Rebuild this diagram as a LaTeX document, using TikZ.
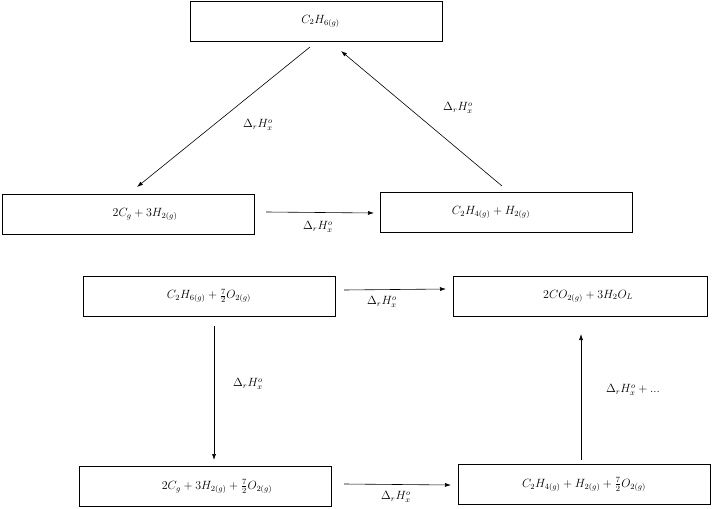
\documentclass[tikz,border=0pt]{standalone}
\usetikzlibrary{arrows.meta}
\begin{document}
\begin{tikzpicture}[x=1bp,y=-1bp,
 box/.style={draw,thick,minimum width=252bp,minimum height=40bp,inner sep=0pt,font=\large},
 arr/.style={-{Latex[length=6bp,width=4bp]},semithick},
 lab/.style={font=\large,inner sep=1pt}]
\useasboundingbox (0,0) rectangle (712,509);
\node[box] (a) at (316.5,21) {\hspace{8bp}$C_2H_{6(g)}$};
\node[box] (b) at (128,214.5) {\hspace{34bp}$2C_g+3H_{2(g)}$};
\node[box] (c) at (506,212.5) {\hspace{-30bp}$C_2H_{4(g)}+H_{2(g)}$};
\node[box] (d) at (209,296) {$C_2H_{6(g)}+\frac{7}{2}O_{2(g)}$};
\node[box,minimum width=254bp] (e) at (580,296) {\hspace{16bp}$2CO_{2(g)}+3H_2O_L$};
\node[box] (f) at (205,486.5) {\hspace{24bp}$2C_g+3H_{2(g)}+\frac{7}{2}O_{2(g)}$};
\node[box] (g) at (584,484.5) {$C_2H_{4(g)}+H_{2(g)}+\frac{7}{2}O_{2(g)}$};
\coordinate (a1) at (310,47); \coordinate (b1) at (137,187);
\coordinate (c1) at (502,186); \coordinate (a2) at (341,51);
\coordinate (b2) at (266,212); \coordinate (c2) at (374,213);
\coordinate (d1) at (344,290); \coordinate (e1) at (446,289);
\coordinate (d2) at (214,326); \coordinate (f1) at (214,460);
\coordinate (f2) at (344,484); \coordinate (g1) at (451,485);
\coordinate (g2) at (581,460); \coordinate (e2) at (581,334);
\draw[arr] (a1) -- (b1);
\draw[arr] (c1) -- (a2);
\draw[arr] (b2) -- (c2);
\draw[arr] (d1) -- (e1);
\draw[arr] (d2) -- (f1);
\draw[arr] (f2) -- (g1);
\draw[arr] (g2) -- (e2);
\node[lab] (l1) at (258,125) {$\Delta_r H_x^o$};
\node[lab] (l2) at (458,108) {$\Delta_r H_x^o$};
\node[lab] (l3) at (318,227) {$\Delta_r H_x^o$};
\node[lab] (l4) at (382,302) {$\Delta_r H_x^o$};
\node[lab] (l5) at (248,384) {$\Delta_r H_x^o$};
\node[lab] (l6) at (396,497) {$\Delta_r H_x^o$};
\node[lab] (l7) at (633,390) {$\Delta_r H_x^o+...$};
\end{tikzpicture}
\end{document}
